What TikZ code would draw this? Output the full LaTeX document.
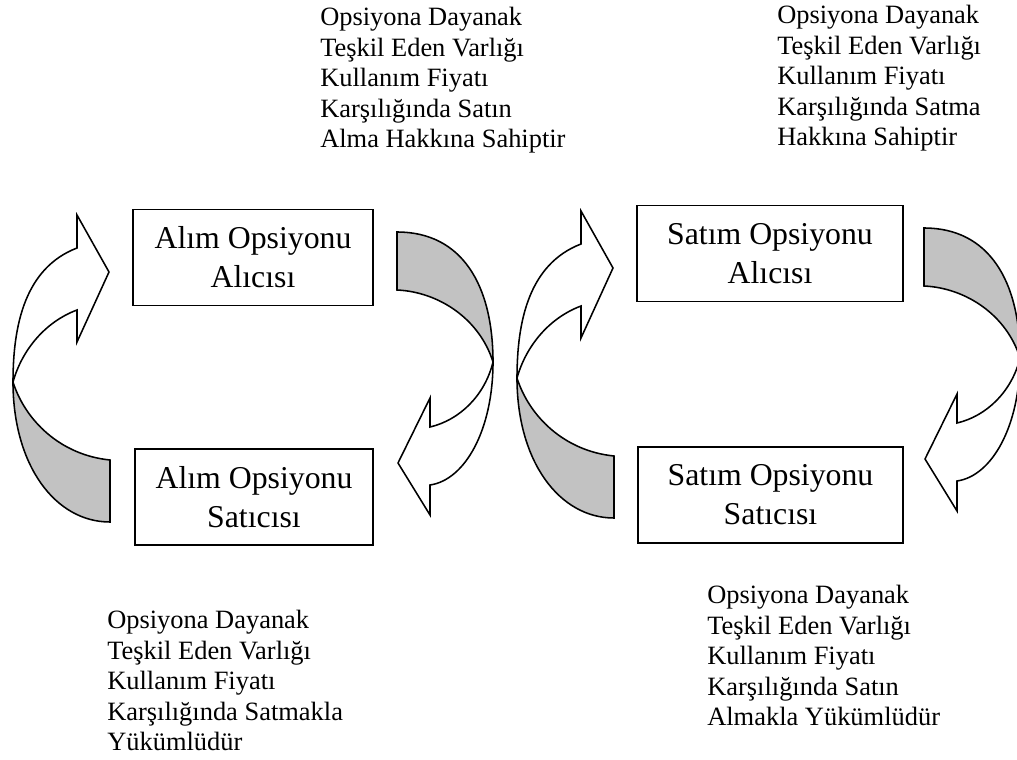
\documentclass[tikz,border=0pt]{standalone}
\usepackage{fontspec}
\setmainfont{Liberation Serif}
\usetikzlibrary{positioning}

\begin{document}
\begin{tikzpicture}[x=0.025cm, y=-0.025cm,
optbox/.style={draw, line width=1.1pt, minimum height=2.4cm, align=center, font=\fontsize{22.6}{27.7}\selectfont},
notetext/.style={anchor=north west, inner sep=0pt, align=left, font=\fontsize{18.8}{21.7}\selectfont},
ribbon/.style={draw, line width=1.1pt, line join=miter},
backside/.style={ribbon, fill=black!24},
upturn/.pic={
  % front of the ribbon, with the head
  \draw[ribbon] (77,248) .. controls (25,268) and (13,325) .. (13,382)
    .. controls (22,350) and (45,322) .. (77,310) -- (77,342) -- (109,272) -- (77,215) -- cycle;
  % back of the ribbon
  \draw[backside] (13,382) .. controls (13,465) and (55,522) .. (110,522) -- (110,460)
    .. controls (60,455) and (25,420) .. (13,382) -- cycle;
},
downturn/.pic={
  % front of the ribbon, with the head
  \draw[ribbon] (493,362) .. controls (485,395) and (460,420) .. (430,427) -- (430,398) -- (398,463)
    -- (430,515) -- (430,485) .. controls (465,480) and (493,430) .. (493,362) -- cycle;
  % back of the ribbon
  \draw[backside] (397,232) .. controls (462,232) and (493,285) .. (493,362)
    .. controls (480,320) and (440,292) .. (397,290) -- cycle;
}
]
\useasboundingbox (0,0) rectangle (1017,760);
% Boxes
\node[optbox, minimum width=6cm]     (alimalici)   at (253,257.5) {Alım Opsiyonu\\Alıcısı};
\node[optbox, minimum width=5.95cm]  (alimsatici)  at (254,497)   {Alım Opsiyonu\\Satıcısı};
\node[optbox, minimum width=6.65cm]  (satimalici)  at (770,253.5) {Satım Opsiyonu\\Alıcısı};
\node[optbox, minimum width=6.625cm] (satimsatici) at (770.5,495) {Satım Opsiyonu\\Satıcısı};
% Texts
\node[notetext] (alimhak)  at (320,7)   {Opsiyona Dayanak\\Teşkil Eden Varlığı\\Kullanım Fiyatı\\Karşılığında Satın\\Alma Hakkına Sahiptir};
\node[notetext] (satimhak) at (777,5)   {Opsiyona Dayanak\\Teşkil Eden Varlığı\\Kullanım Fiyatı\\Karşılığında Satma\\Hakkına Sahiptir};
\node[notetext] (alimyuk)  at (107,610) {Opsiyona Dayanak\\Teşkil Eden Varlığı\\Kullanım Fiyatı\\Karşılığında Satmakla\\Yükümlüdür};
\node[notetext] (satimyuk) at (707,585) {Opsiyona Dayanak\\Teşkil Eden Varlığı\\Kullanım Fiyatı\\Karşılığında Satın\\Almakla Yükümlüdür};
% Turning arrows
\pic at (0,0)    {upturn};
\pic at (0,0)    {downturn};
\pic at (504,-4) {upturn};
\pic at (527,-4) {downturn};
\end{tikzpicture}
\end{document}
